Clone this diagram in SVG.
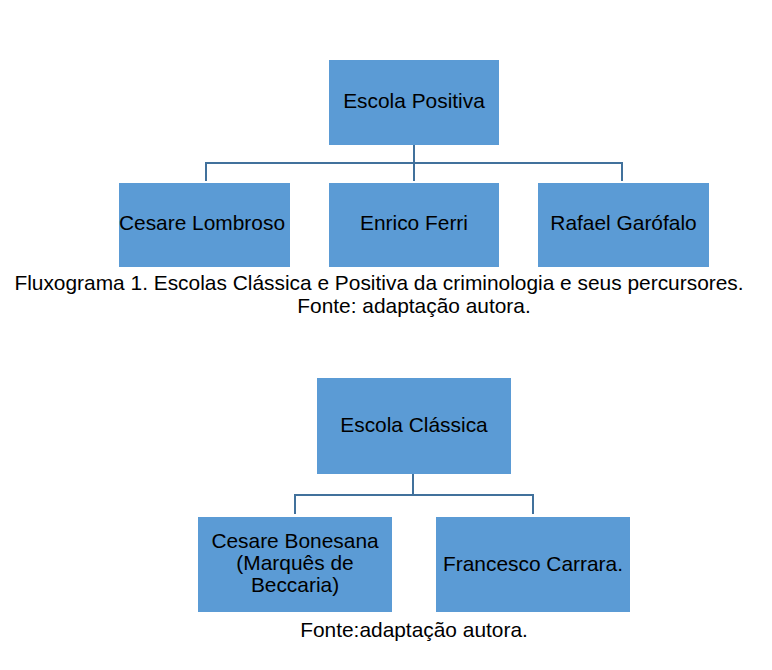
<svg xmlns="http://www.w3.org/2000/svg" width="772" height="670" viewBox="0 0 772 670">
<style>
.box{fill:#5B9BD5;}
.t{font-family:"Liberation Sans",Arial,sans-serif;font-size:20.9px;fill:#000;text-anchor:middle;}
.c{fill:none;stroke:#41719C;stroke-width:2;}
</style>
<rect width="772" height="670" fill="#fff"/>
<g id="connectors">
<path class="c" d="M414,145 V163 M206,181 V163 H622 V181 M414,163 V181"/>
<path class="c" d="M413,474 V495 M295,514 V495 H533 V514"/>
</g>
<g id="escola-positiva"><rect class="box" x="329" y="60" width="170" height="85"/><text class="t" x="414" y="108">Escola Positiva</text></g>
<g id="lombroso"><rect class="box" x="119" y="183" width="171" height="84"/><text class="t" x="202" y="230">Cesare Lombroso</text></g>
<g id="ferri"><rect class="box" x="329" y="183" width="170" height="84"/><text class="t" x="414" y="230">Enrico Ferri</text></g>
<g id="garofalo"><rect class="box" x="538" y="183" width="171" height="84"/><text class="t" x="623.5" y="230">Rafael Garófalo</text></g>
<g id="caption1">
<text class="t" x="379" y="290">Fluxograma 1. Escolas Clássica e Positiva da criminologia e seus percursores.</text>
<text class="t" x="414" y="313">Fonte: adaptação autora.</text>
</g>
<g id="escola-classica"><rect class="box" x="317" y="378" width="194" height="96"/><text class="t" x="414" y="432">Escola Clássica</text></g>
<g id="beccaria"><rect class="box" x="198" y="517" width="194" height="95"/><text class="t" x="295" y="548">Cesare Bonesana</text><text class="t" x="295" y="570">(Marquês de</text><text class="t" x="295" y="592">Beccaria)</text></g>
<g id="carrara"><rect class="box" x="436" y="517" width="194" height="95"/><text class="t" x="533" y="571">Francesco Carrara.</text></g>
<g id="caption2"><text class="t" x="414" y="637">Fonte:adaptação autora.</text></g>
</svg>
